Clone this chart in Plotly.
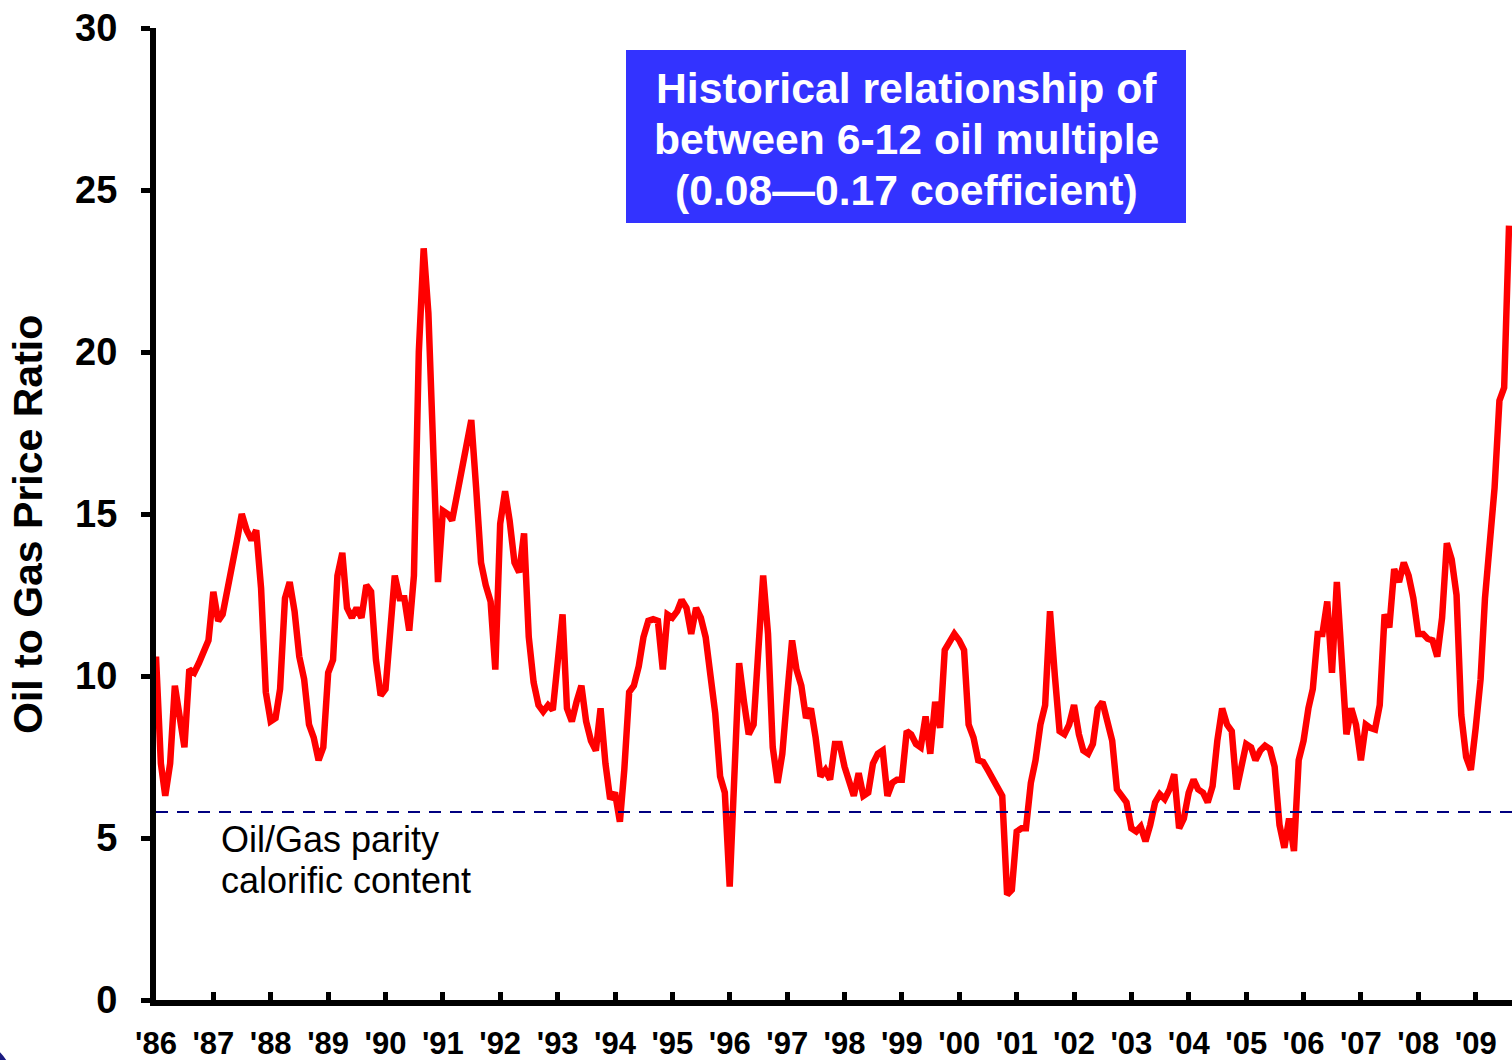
import pandas as pd
import plotly.graph_objects as go

# ---------------- data ----------------
start_month = "1986-01-01"
ratio = [
    # 1986
    10.6, 7.3, 6.3, 7.3, 9.7, 8.8, 7.8, 10.2, 10.1, 10.4, 10.8, 11.1,
    # 1987
    12.6, 11.7, 11.9, 12.6, 13.3, 14.2, 15.0, 14.5, 14.2, 14.5, 12.7, 9.5,
    # 1988
    8.6, 8.7, 9.6, 12.4, 12.9, 12.0, 10.6, 9.9, 8.5, 8.1, 7.4, 7.8,
    # 1989
    10.1, 10.5, 13.1, 13.8, 12.1, 11.8, 12.1, 11.8, 12.8, 12.6, 10.5, 9.4,
    # 1990
    9.6, 11.4, 13.1, 12.4, 12.4, 11.4, 13.1, 20.0, 23.2, 21.2, 17.0, 12.9,
    # 1991
    15.1, 15.0, 14.8, 15.6, 16.3, 17.0, 17.9, 15.8, 13.5, 12.8, 12.3, 10.2,
    # 1992
    14.7, 15.7, 14.8, 13.5, 13.2, 14.4, 11.2, 9.8, 9.1, 8.9, 9.1, 8.95,
    # 1993
    10.3, 11.9, 9.0, 8.6, 9.2, 9.7, 8.6, 8.0, 7.7, 9.0, 7.3, 6.2,
    # 1994
    6.4, 5.5, 7.1, 9.5, 9.7, 10.3, 11.2, 11.7, 11.75, 11.7, 10.2, 11.9,
    # 1995
    11.8, 12.0, 12.35, 12.1, 11.3, 12.1, 11.8, 11.2, 10.0, 8.85, 6.9, 6.4,
    # 1996
    3.5, 7.0, 10.4, 9.2, 8.2, 8.5, 10.5, 13.1, 11.3, 7.8, 6.7, 7.6,
    # 1997
    9.4, 11.1, 10.2, 9.7, 8.7, 9.0, 8.1, 6.9, 7.1, 6.8, 7.9, 7.9,
    # 1998
    7.2, 6.7, 6.3, 7.0, 6.3, 6.4, 7.3, 7.6, 7.7, 6.3, 6.7, 6.8,
    # 1999
    6.8, 8.3, 8.2, 7.9, 7.8, 8.75, 7.6, 9.2, 8.4, 10.8, 11.1, 11.3,
    # 2000
    11.1, 10.8, 8.5, 8.1, 7.4, 7.35, 7.1, 6.8, 6.6, 6.3, 3.25, 3.4,
    # 2001
    5.2, 5.3, 5.3, 6.7, 7.4, 8.5, 9.1, 12.0, 10.0, 8.3, 8.2, 8.5,
    # 2002
    9.1, 8.2, 7.7, 7.6, 7.9, 9.0, 9.2, 8.6, 8.0, 6.5, 6.3, 6.1,
    # 2003
    5.3, 5.2, 5.35, 4.9, 5.4, 6.1, 6.35, 6.2, 6.5, 6.97, 5.3, 5.6,
    # 2004
    6.4, 6.8, 6.5, 6.4, 6.1, 6.6, 8.0, 9.0, 8.5, 8.3, 6.5, 7.3,
    # 2005
    7.9, 7.8, 7.4, 7.7, 7.85, 7.75, 7.2, 5.4, 4.7, 5.6, 4.6, 7.4,
    # 2006
    8.0, 9.0, 9.6, 11.3, 11.3, 12.3, 10.1, 12.9, 10.8, 8.2, 9.0, 8.5,
    # 2007
    7.4, 8.5, 8.4, 8.35, 9.1, 11.9, 11.5, 13.3, 12.9, 13.5, 13.1, 12.4,
    # 2008
    11.3, 11.3, 11.15, 11.1, 10.6, 11.8, 14.1, 13.6, 12.5, 8.8, 7.5, 7.1,
    # 2009
    8.4, 9.9, 12.4, 14.4, 15.8, 18.5, 18.9, 23.9,
]
months = pd.date_range(start_month, periods=len(ratio), freq="MS")

parity_level = 5.8
year_ticks = list(range(1986, 2010))
tick_labels = ["'%02d" % (y % 100) for y in year_ticks]
y_ticks = [0, 5, 10, 15, 20, 25, 30]

title_lines = ["Historical relationship of", "between 6-12 oil multiple",
               "(0.08\u20140.17 coefficient)"]
parity_lines = ["Oil/Gas parity", "calorific content"]
y_title = "Oil to Gas Price Ratio"

# ---------------- figure ----------------
W, H = 1512, 1060
L, R, T, B = 156, 0, 28, 60
PW, PH = W - L - R, H - T - B


def px(x):
    return (x - L) / PW


def py(y):
    return (H - B - y) / PH


BOLD = "Liberation Sans, Arial, sans-serif"

fig = go.Figure()
fig.add_trace(go.Scatter(
    x=months, y=ratio, mode="lines",
    line=dict(color="#FF0000", width=6.5),
    hoverinfo="skip", showlegend=False,
))

# parity line
fig.add_shape(type="line", xref="paper", yref="y", x0=0, x1=1,
              y0=parity_level, y1=parity_level,
              line=dict(color="#000080", width=2, dash="12px,9px"))

# blue title box
fig.add_shape(type="rect", xref="paper", yref="paper",
              x0=px(626), x1=px(1186), y0=py(223), y1=py(50),
              fillcolor="#3333FF", line=dict(width=0), layer="above")
for line_text, yc in zip(title_lines, [88, 139, 190]):
    fig.add_annotation(xref="paper", yref="paper", x=px(906), y=py(yc),
                       xanchor="center", yanchor="middle", showarrow=False,
                       text="<b>" + line_text + "</b>",
                       font=dict(family=BOLD, size=42.7, color="white"))

# parity annotation
for line_text, yc in zip(parity_lines, [839, 880]):
    fig.add_annotation(xref="paper", yref="paper", x=px(219), y=py(yc),
                       xanchor="left", yanchor="middle", showarrow=False,
                       text=line_text,
                       font=dict(family=BOLD, size=36, color="black"))

# y title
fig.add_annotation(xref="paper", yref="paper", x=px(28), y=py(525),
                   xanchor="center", yanchor="middle", showarrow=False,
                   textangle=-90, text="<b>" + y_title + "</b>",
                   font=dict(family=BOLD, size=41, color="black"))

# decorative corner circle
fig.add_shape(type="circle", xref="paper", yref="paper",
              x0=px(-107), x1=px(17), y0=py(1157), y1=py(1033),
              fillcolor="#1a1a80", line=dict(width=0))

fig.update_layout(
    width=W, height=H,
    margin=dict(l=L, r=R, t=T, b=B, pad=0, autoexpand=False),
    paper_bgcolor="white", plot_bgcolor="white",
    showlegend=False, hovermode=False,
    xaxis=dict(
        type="date",
        range=["1986-01-01", "2009-08-20"],
        tickvals=[pd.Timestamp(f"{y}-01-01") for y in year_ticks],
        ticktext=["<b>" + t + "</b>" for t in tick_labels],
        tickfont=dict(family=BOLD, size=31, color="black"),
        ticks="inside", ticklen=8, tickwidth=5, tickcolor="black",
        showline=True, linewidth=6, linecolor="black",
        showgrid=False, zeroline=False, ticklabelstandoff=11,
        automargin=False,
    ),
    yaxis=dict(
        range=[0, 30],
        tickvals=y_ticks,
        ticktext=["<b>%d</b>" % v for v in y_ticks],
        tickfont=dict(family=BOLD, size=38, color="black"),
        ticks="outside", ticklen=9, tickwidth=5, tickcolor="black",
        showline=True, linewidth=6, linecolor="black",
        showgrid=False, zeroline=False, ticklabelstandoff=16,
        automargin=False,
    ),
)

fig.write_html(
    "out.html",
    config={"displayModeBar": False, "staticPlot": True},
    post_script="document.body.style.margin='0px';"
                "document.body.style.overflow='hidden';"
                "document.documentElement.style.overflow='hidden';",
)
